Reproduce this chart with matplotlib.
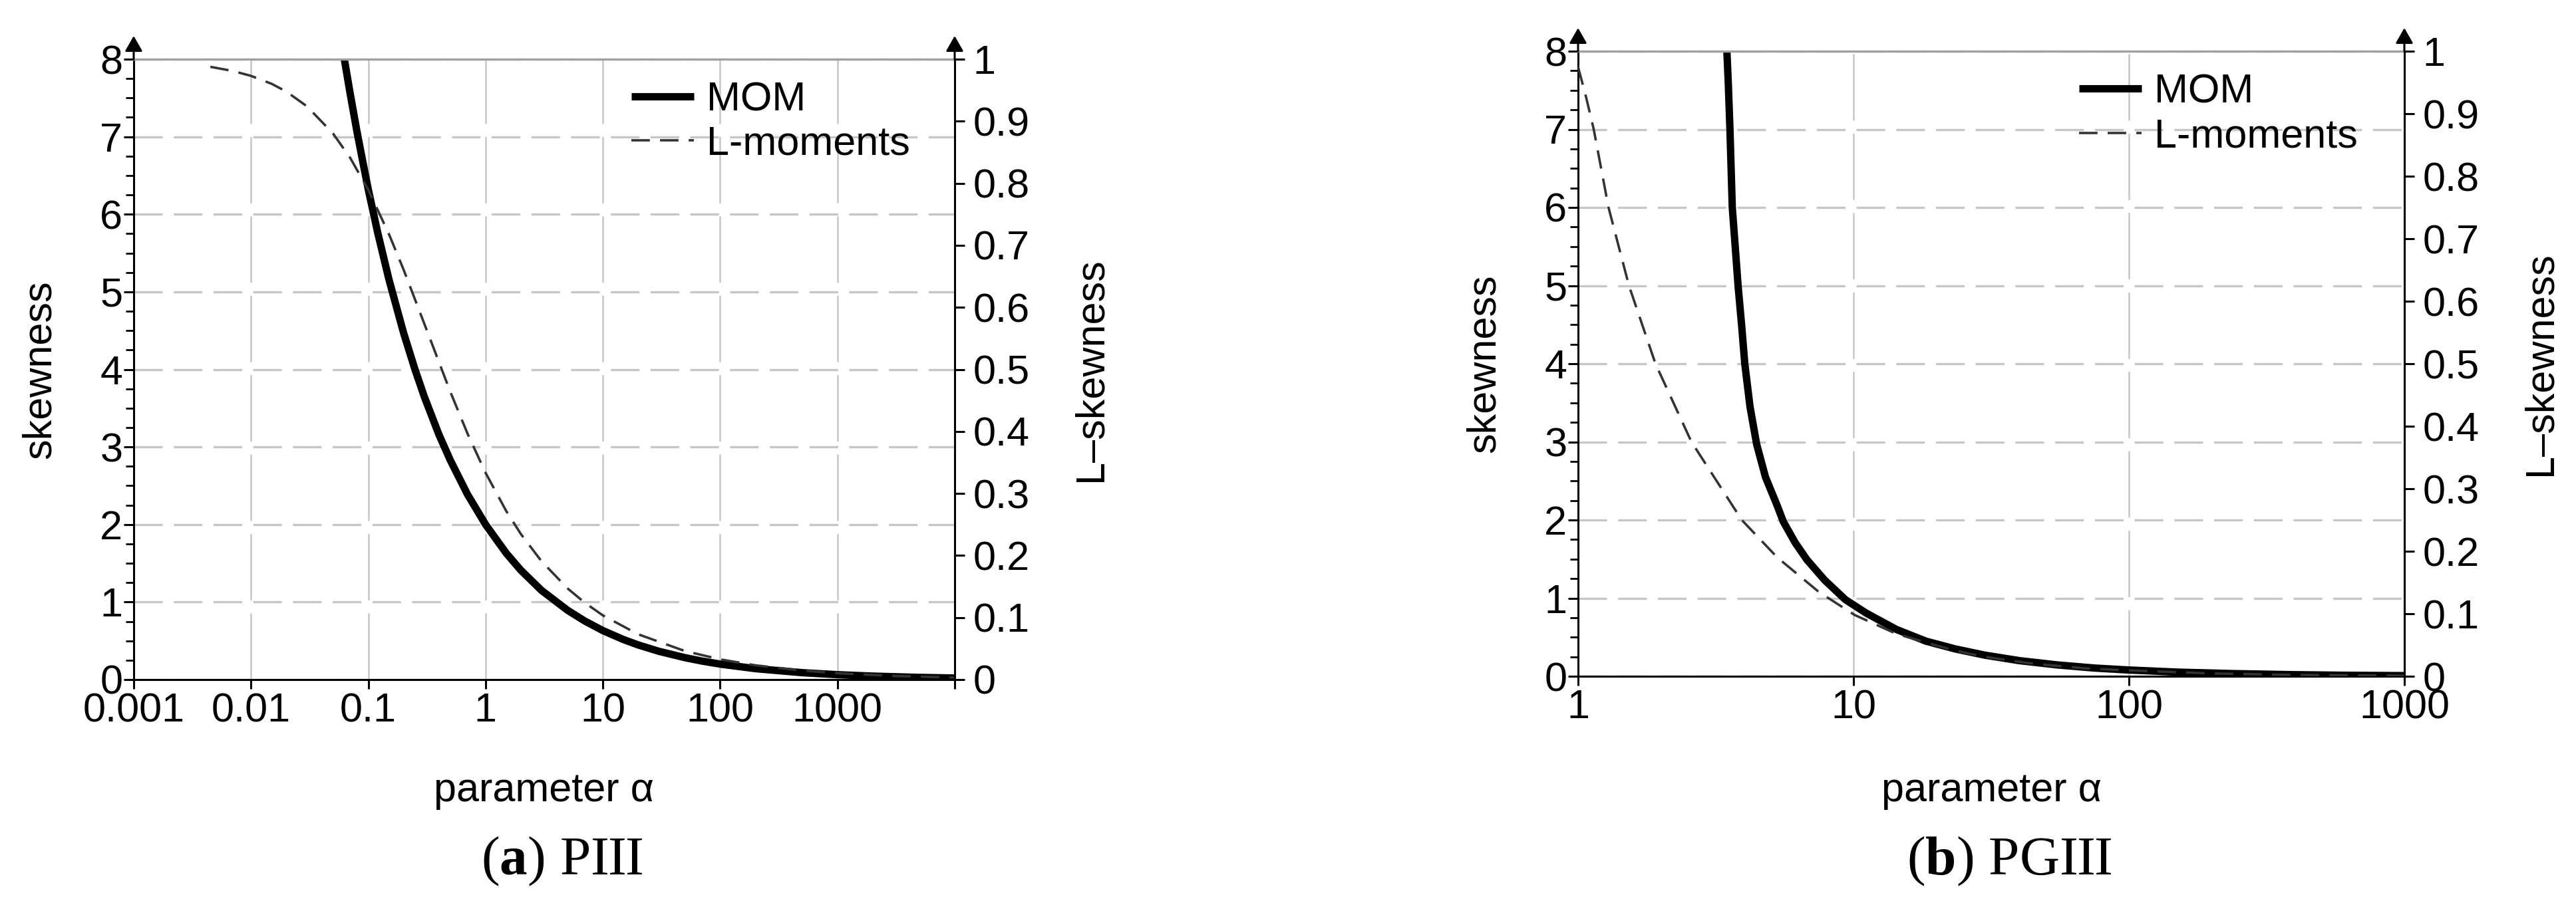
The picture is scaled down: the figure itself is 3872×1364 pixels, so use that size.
import matplotlib
matplotlib.use("Agg")
import matplotlib.pyplot as plt
from matplotlib.ticker import FixedLocator, FixedFormatter, NullLocator, MultipleLocator

plt.rcParams['font.family'] = ['Liberation Sans', 'DejaVu Sans']
plt.rcParams['lines.scale_dashes'] = False
plt.rcParams['mathtext.fontset'] = 'custom'
plt.rcParams['mathtext.rm'] = 'Liberation Serif'
plt.rcParams['mathtext.bf'] = 'Liberation Serif:bold'

# ---------------- data: panel (a) PIII ----------------
piii_alpha_mom = [0.0625, 0.07, 0.08, 0.09, 0.1, 0.12, 0.15, 0.2, 0.25, 0.3, 0.4, 0.5, 0.7,
                  1, 1.5, 2, 3, 5, 7, 10, 15, 20, 30, 50, 70, 100, 200, 500, 1000, 2000,
                  5000, 10000]
piii_skew_mom = [8.0, 7.56, 7.07, 6.67, 6.32, 5.77, 5.16, 4.47, 4.0, 3.65, 3.16, 2.83, 2.39,
                 2.0, 1.63, 1.41, 1.15, 0.894, 0.756, 0.632, 0.516, 0.447, 0.365, 0.283,
                 0.239, 0.2, 0.141, 0.0894, 0.0632, 0.0447, 0.0283, 0.02]
piii_alpha_lm = [0.0045, 0.007, 0.01, 0.015, 0.02, 0.03, 0.05, 0.07, 0.1, 0.15, 0.2, 0.3,
                 0.5, 0.7, 1, 1.5, 2, 3, 5, 7, 10, 20, 50, 100, 200, 500, 1000, 3000, 10000]
piii_lskew = [0.9877, 0.9810, 0.9731, 0.9603, 0.9478, 0.9240, 0.8803, 0.8411, 0.7894,
              0.7181, 0.6607, 0.5739, 0.4641, 0.3970, 0.3333, 0.2717, 0.2346, 0.1907,
              0.1470, 0.1240, 0.1035, 0.0730, 0.0461, 0.0326, 0.0230, 0.0146, 0.0103,
              0.0059, 0.0033]

# ---------------- data: panel (b) PGIII ----------------
pg_alpha_mom = [3.47, 3.51, 3.56, 3.63, 3.72, 3.81, 3.93, 4.03, 4.21, 4.45, 4.79, 5.29, 5.56,
                6.14, 6.78, 7.86, 9.35, 11.1, 14.3, 18.3, 23.4, 30, 40, 55, 75, 100, 150,
                240, 400, 600, 1000]
pg_skew_mom = [8.0, 7.6, 7.0, 6.0, 5.5, 5.0, 4.47, 4.0, 3.45, 2.97, 2.55, 2.18, 1.98, 1.71,
               1.49, 1.23, 0.98, 0.81, 0.60, 0.45, 0.35, 0.27, 0.2, 0.145, 0.105, 0.08,
               0.053, 0.034, 0.02, 0.013, 0.008]
pg_alpha_lm = [1.0, 1.07, 1.14, 1.29, 1.53, 1.91, 2.58, 3.93, 5.29, 7.48, 10.1, 14.3, 18.3,
               23.4, 30, 45, 70, 100, 200, 400, 1000]
pg_lskew = [0.975, 0.926, 0.875, 0.75, 0.625, 0.5, 0.375, 0.25, 0.19, 0.135, 0.098, 0.068,
            0.054, 0.041, 0.031, 0.02, 0.0125, 0.0094, 0.0045, 0.0022, 0.0009]

# ---------------- axes texts ----------------
piii_xticks = [0.001, 0.01, 0.1, 1, 10, 100, 1000, 10000]
piii_xlabels = ['0.001', '0.01', '0.1', '1', '10', '100', '1000', '']
pg_xticks = [1, 10, 100, 1000]
pg_xlabels = ['1', '10', '100', '1000']
skew_ticks = [0, 1, 2, 3, 4, 5, 6, 7, 8]
lskew_ticks = [0, 0.1, 0.2, 0.3, 0.4, 0.5, 0.6, 0.7, 0.8, 0.9, 1]
lskew_labels = ['0', '0.1', '0.2', '0.3', '0.4', '0.5', '0.6', '0.7', '0.8', '0.9', '1']
legend_labels = ['MOM', 'L-moments']
captions = [r'($\mathbf{a}$) PIII', r'($\mathbf{b}$) PGIII']

W, H = 3872, 1364
fig = plt.figure(figsize=(W / 100, H / 100), dpi=100)

FS = 44
GRID_C = '#c6c6c6'


def panel(rect_px, xlim, xticks, xlabels, a_mom, s_mom, a_lm, s_lm, caption, cap_x):
    l, r, t, b = rect_px
    ax = fig.add_axes([l / W, 1 - b / H, (r - l) / W, (b - t) / H])
    ax.set_xscale('log')
    ax.set_xlim(*xlim)
    ax.set_ylim(0, 8)
    ax.xaxis.set_major_locator(FixedLocator(xticks))
    ax.xaxis.set_major_formatter(FixedFormatter(xlabels))
    ax.xaxis.set_minor_locator(NullLocator())
    ax.yaxis.set_major_locator(FixedLocator(skew_ticks))
    ax.yaxis.set_minor_locator(MultipleLocator(0.25))
    ax.set_axisbelow(True)
    ax.grid(True, which='major', axis='x', color=GRID_C, lw=1.8, linestyle=(0, (72, 14)))
    ax.grid(True, which='major', axis='y', color=GRID_C, lw=2.4, linestyle=(0, (31, 12)))
    for sp in ['left', 'bottom']:
        ax.spines[sp].set_color('black')
        ax.spines[sp].set_linewidth(2.2)
    ax.spines['top'].set_color('#a0a0a0')
    ax.spines['top'].set_linewidth(2.4)
    ax.spines['right'].set_visible(False)
    ax.tick_params(axis='y', which='major', direction='out', length=11, width=2.2,
                   labelsize=FS, pad=1)
    ax.tick_params(axis='y', which='minor', direction='out', length=9, width=2.0)
    ax.tick_params(axis='x', which='major', direction='out', length=10, width=2.2,
                   labelsize=FS, pad=4)

    line_mom, = ax.plot(a_mom, s_mom, color='black', lw=8, solid_capstyle='butt',
                        solid_joinstyle='round')

    tw = ax.twinx()
    tw.set_ylim(0, 1)
    tw.yaxis.set_major_locator(FixedLocator(lskew_ticks))
    tw.yaxis.set_major_formatter(FixedFormatter(lskew_labels))
    tw.yaxis.set_minor_locator(NullLocator())
    for sp in ['left', 'top', 'bottom']:
        tw.spines[sp].set_visible(False)
    tw.spines['right'].set_color('black')
    tw.spines['right'].set_linewidth(2.2)
    tw.tick_params(axis='y', direction='out', length=11, width=2.2, labelsize=FS, pad=9)
    line_lm, = tw.plot(a_lm, s_lm, color='#333333', lw=2.6, linestyle=(0, (20, 11)))

    # axis arrows
    ext = 35 / (b - t)
    for a_, x_ in [(ax, 0), (tw, 1)]:
        a_.annotate('', xy=(x_, 1 + ext), xytext=(x_, 1), xycoords='axes fraction',
                    arrowprops=dict(arrowstyle='-|>,head_length=0.7,head_width=0.4',
                                    color='black', lw=2.2, shrinkA=0, shrinkB=0,
                                    mutation_scale=20),
                    annotation_clip=False)

    ax.set_ylabel('skewness', fontsize=FS, rotation=90, ha='center', va='center')
    ax.yaxis.set_label_coords(-141 / (r - l), 0.5)
    tw.set_ylabel('L\u2013skewness', fontsize=FS, rotation=90, ha='center', va='center')
    tw.yaxis.set_label_coords(1 + 205 / (r - l), 0.5)
    ax.set_xlabel('parameter \u03b1', fontsize=FS, ha='center', va='center')
    ax.xaxis.set_label_coords(0.5, -(1189 - b) / (b - t))

    tw.legend([line_mom, line_lm], legend_labels, loc='upper left',
              bbox_to_anchor=(0.606, 0.964), frameon=False, fontsize=FS,
              handlelength=1.54, handletextpad=0.31, labelspacing=0.15,
              borderpad=0, borderaxespad=0)

    fig.text(cap_x / W, 1 - 1315 / H, caption, family='Liberation Serif', fontsize=60,
             ha='center', va='baseline')
    return ax, tw


panel((201, 1435, 89, 1022), (0.001, 10000), piii_xticks, piii_xlabels,
      piii_alpha_mom, piii_skew_mom, piii_alpha_lm, piii_lskew, captions[0], 845)
panel((2372, 3614, 77, 1017), (1, 1000), pg_xticks, pg_xlabels,
      pg_alpha_mom, pg_skew_mom, pg_alpha_lm, pg_lskew, captions[1], 3020)

fig.savefig('out.png', dpi=100, facecolor='white')
